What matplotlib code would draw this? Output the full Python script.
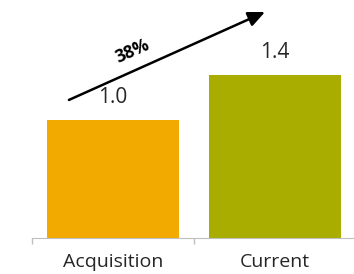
import matplotlib.pyplot as plt
import matplotlib

matplotlib.rcParams['font.family'] = ['Open Sans', 'DejaVu Sans']

categories = ['Acquisition', 'Current']
values = [1.0, 1.38]
value_labels = ['1.0', '1.4']
colors = ['#F2A900', '#A8AD00']
growth_label = '38%'

fig = plt.figure(figsize=(3.54, 2.74), dpi=100)
ax = fig.add_axes([32 / 354, 36 / 274, 324 / 354, 238 / 274])

x = list(range(len(categories)))
bars = ax.bar(x, values, width=0.81, color=colors)

for xi, v, lab in zip(x, values, value_labels):
    ax.annotate(lab, (xi, v), xytext=(0, 16.5), textcoords='offset points',
                ha='center', va='center', fontsize=15, color='#262626')

ax.annotate('', xy=(0.938, 1.915), xytext=(-0.272, 1.17),
            arrowprops=dict(arrowstyle='-|>,head_length=1.0,head_width=0.45',
                            color='black', lw=1.8, shrinkA=0, shrinkB=0))
ax.text(0.12, 1.585, growth_label, rotation=24, ha='center', va='center',
        fontsize=12.5, fontweight='bold', color='black')

ax.set_xlim(-0.5, 1.5)
ax.set_ylim(0, 238 / 118)
ax.set_xticks([-0.5, 0.5, 1.5])
ax.set_xticklabels([])
ax.set_xticks(x, minor=True)
ax.set_xticklabels(categories, minor=True, fontsize=14, color='#262626')
ax.tick_params(axis='x', which='major', length=4.5, color='#BFBFBF', width=1)
ax.tick_params(axis='x', which='minor', length=0, pad=11)
ax.set_yticks([])
for s in ['top', 'right', 'left']:
    ax.spines[s].set_visible(False)
ax.spines['bottom'].set_color('#BFBFBF')

fig.savefig('out.png', dpi=100)
